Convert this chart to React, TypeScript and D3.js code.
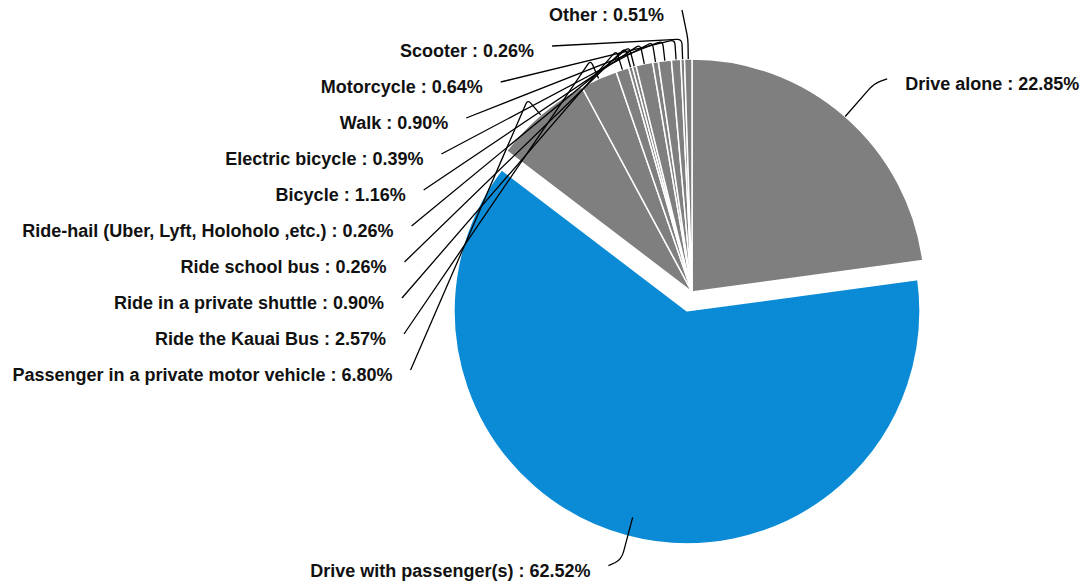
import React, { useEffect, useRef } from 'react';
import * as d3 from 'd3';

// commute mode shares (%), clockwise from 12 o'clock
const categories = [
  'Drive alone',
  'Drive with passenger(s)',
  'Passenger in a private motor vehicle',
  'Ride the Kauai Bus',
  'Ride in a private shuttle',
  'Ride school bus',
  'Ride-hail (Uber, Lyft, Holoholo ,etc.)',
  'Bicycle',
  'Electric bicycle',
  'Walk',
  'Motorcycle',
  'Scooter',
  'Other',
];
const shares = [22.85, 62.52, 6.8, 2.57, 0.9, 0.26, 0.26, 1.16, 0.39, 0.9, 0.64, 0.26, 0.51];
const explodedCategory = 'Drive with passenger(s)';
const bigCategories = ['Drive alone', 'Drive with passenger(s)'];

const GREY = '#7f7f7f';
const BLUE = '#0b8bd5';

type Pt = [number, number];

function roundedLeader(p0: Pt, p1: Pt, p2: Pt, k: number) {
  const d01 = Math.hypot(p0[0] - p1[0], p0[1] - p1[1]);
  const d12 = Math.hypot(p2[0] - p1[0], p2[1] - p1[1]);
  const ka = Math.min(k, d01 / 2);
  const kb = Math.min(k, d12 / 2);
  const a: Pt = [p1[0] + ((p0[0] - p1[0]) / d01) * ka, p1[1] + ((p0[1] - p1[1]) / d01) * ka];
  const b: Pt = [p1[0] + ((p2[0] - p1[0]) / d12) * kb, p1[1] + ((p2[1] - p1[1]) / d12) * kb];
  return `M${p0[0]},${p0[1]}L${a[0]},${a[1]}Q${p1[0]},${p1[1]} ${b[0]},${b[1]}L${p2[0]},${p2[1]}`;
}

function draw(node: SVGSVGElement) {
  const svg = d3.select(node);
  svg.selectAll('*').remove();

  // SETTINGS
  const cx = 692;
  const cy = 292;
  const radius = 233;
  const explode = 19.5;
  const labelRing = 290; // labels on the left sit on a circle
  const ringCy = 300;
  const labelTop = 10;
  const labelStep = 36;
  const font = '"Liberation Sans", Arial, sans-serif';

  const data = categories.map((c, i) => ({ name: c, value: shares[i] }));

  const pie = d3.pie<{ name: string; value: number }>()
    .sort(null)
    .value(d => d.value)
    .startAngle(0)
    .endAngle(2 * Math.PI);

  const arcs = pie(data);
  const arc = d3.arc<d3.PieArcDatum<{ name: string; value: number }>>()
    .innerRadius(0)
    .outerRadius(radius);

  const g = svg.append('g').attr('transform', `translate(${cx},${cy})`);

  const mid = (d: d3.PieArcDatum<any>) => (d.startAngle + d.endAngle) / 2;
  const polar = (a: number, r: number): Pt => [r * Math.sin(a), -r * Math.cos(a)];

  g.selectAll('path.slice')
    .data(arcs)
    .enter()
    .append('path')
    .attr('class', 'slice')
    .attr('d', arc)
    .attr('fill', d => (d.data.name === explodedCategory ? BLUE : GREY))
    .attr('stroke', '#fff')
    .attr('stroke-width', 1.5)
    .attr('stroke-linejoin', 'round')
    .attr('transform', d => {
      if (d.data.name !== explodedCategory) return null;
      const [ox, oy] = polar(mid(d), explode);
      return `translate(${ox},${oy})`;
    });

  // LABELS
  const small = arcs.filter(d => !bigCategories.includes(d.data.name));
  // stack small labels top-down, from the last slice (nearest 12 o'clock) backwards
  const stacked = small.slice().reverse();

  const labels: { d: d3.PieArcDatum<any>; p0: Pt; p1: Pt; p2: Pt; side: number; k: number }[] = [];

  stacked.forEach((d, i) => {
    const a = mid(d);
    const p0 = polar(a, radius);
    const p1 = polar(a, radius + 20);
    const ly = labelTop + i * labelStep;
    const dy = ly - ringCy;
    const dx = Math.max(Math.sqrt(Math.max(labelRing * labelRing - dy * dy, 0)), 10);
    const p2: Pt = [-dx, ly - cy];
    labels.push({ d, p0, p1, p2, side: -1, k: 5 });
  });

  arcs.filter(d => bigCategories.includes(d.data.name)).forEach(d => {
    const a = mid(d);
    const p0 = polar(a, radius);
    const p1 = polar(a, radius + 44);
    const side = Math.sin(a) >= 0 ? 1 : -1;
    const p2: Pt = [p1[0] + side * 13, p1[1] - Math.cos(a) * 6];
    labels.push({ d, p0, p1, p2, side, k: 9 });
  });

  g.selectAll('path.leader')
    .data(labels)
    .enter()
    .append('path')
    .attr('class', 'leader')
    .attr('d', l => roundedLeader(l.p0, l.p1, l.p2, l.k))
    .attr('fill', 'none')
    .attr('stroke', '#000')
    .attr('stroke-width', 1.3);

  g.selectAll('text.label')
    .data(labels)
    .enter()
    .append('text')
    .attr('class', 'label')
    .attr('x', l => l.p2[0] + l.side * 18)
    .attr('y', l => l.p2[1] + 5)
    .attr('dy', '0.35em')
    .attr('text-anchor', l => (l.side < 0 ? 'end' : 'start'))
    .attr('font-family', font)
    .attr('font-weight', 'bold')
    .attr('font-size', 18)
    .attr('fill', '#111')
    .text(l => `${l.d.data.name} : ${l.d.data.value.toFixed(2)}%`);
}

export default function App() {
  const ref = useRef<SVGSVGElement>(null);

  useEffect(() => {
    if (ref.current) draw(ref.current);
  }, []);

  return (
    <svg
      ref={ref}
      width={1084}
      height={583}
      style={{ position: 'absolute', left: 0, top: 0, background: '#fff' }}
    />
  );
}
